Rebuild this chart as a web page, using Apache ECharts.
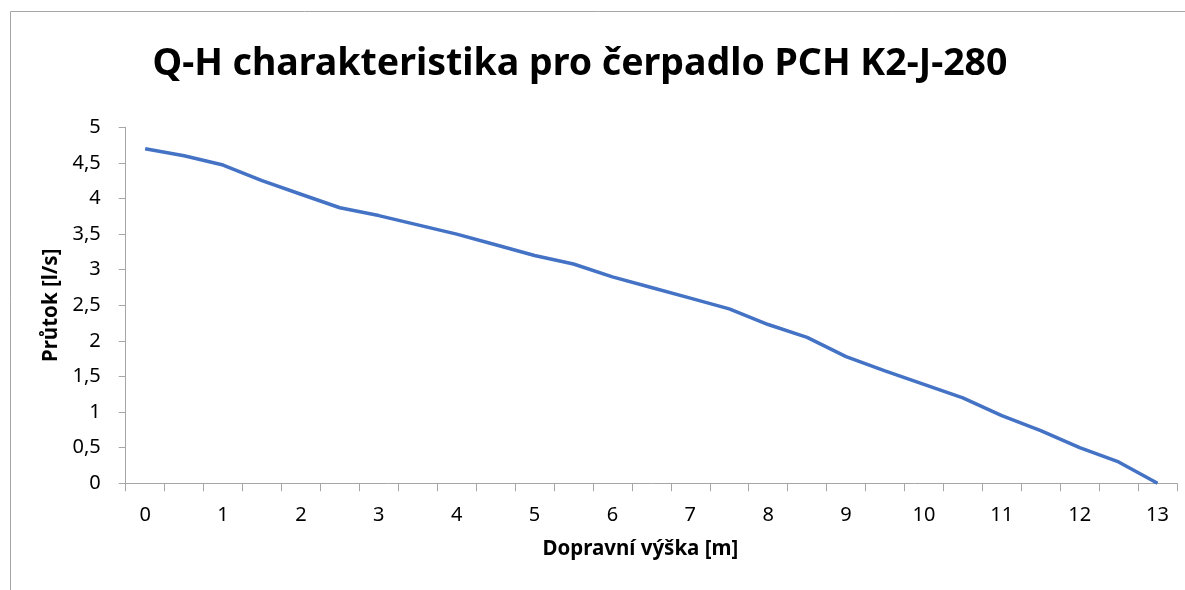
<!DOCTYPE html>
<html>
<head>
<meta charset="utf-8">
<script src="https://cdn.jsdelivr.net/npm/echarts@6/dist/echarts.min.js"></script>
<style>
html,body{margin:0;padding:0;background:#fff;}
#chart{width:1185px;height:590px;}
</style>
</head>
<body>
<div id="chart"></div>
<script>
const titleText = 'Q-H charakteristika pro čerpadlo PCH K2-J-280';
const xAxisName = 'Dopravní výška [m]';
const yAxisName = 'Průtok [l/s]';
const xCategories = ['0','0,5','1','1,5','2','2,5','3','3,5','4','4,5','5','5,5','6','6,5','7','7,5','8','8,5','9','9,5','10','10,5','11','11,5','12','12,5','13'];
const flowValues = [4.70,4.60,4.47,4.25,4.06,3.87,3.76,3.63,3.50,3.35,3.20,3.08,2.90,2.75,2.60,2.45,2.23,2.05,1.78,1.58,1.39,1.20,0.95,0.74,0.50,0.30,0.00];

const chart = echarts.init(document.getElementById('chart'), null, {renderer:'canvas'});
const font = '"Noto Sans", sans-serif';
chart.setOption({
  animation:false,
  backgroundColor:'#fff',
  title:{
    text:titleText,
    left:575, top:40, textAlign:'center',
    textStyle:{fontFamily:font, fontWeight:'bold', fontSize:37.5, color:'#000'}
  },
  graphic:[{
    type:'polyline',
    shape:{points:[[10.5,600],[10.5,11.5],[1200,11.5]]},
    style:{stroke:'#a6a6a6', lineWidth:1, fill:null},
    silent:true
  }],
  grid:{left:125.7, right:8, top:127.3, bottom:106.7, containLabel:false},
  xAxis:{
    type:'category',
    data:xCategories,
    boundaryGap:true,
    name:xAxisName,
    nameLocation:'middle',
    nameGap:55,
    nameTextStyle:{fontFamily:font, fontWeight:'bold', fontSize:20.5, color:'#000', padding:[0,22,0,0]},
    axisLine:{lineStyle:{color:'#a6a6a6', width:1}},
    axisTick:{show:true, interval:0, length:8, lineStyle:{color:'#a6a6a6'}},
    axisLabel:{interval:1, fontFamily:font, fontSize:20, color:'#000', margin:22},
    splitLine:{show:false}
  },
  yAxis:{
    type:'value',
    min:0, max:5, interval:0.5,
    name:yAxisName,
    nameLocation:'middle',
    nameGap:60,
    nameTextStyle:{fontFamily:font, fontWeight:'bold', fontSize:20.5, color:'#000'},
    axisLine:{show:true, lineStyle:{color:'#a6a6a6', width:1}},
    axisTick:{show:true, length:7, lineStyle:{color:'#a6a6a6'}},
    axisLabel:{fontFamily:font, fontSize:20, color:'#000', margin:25,
      formatter:v=>String(v).replace('.',',')},
    splitLine:{show:false}
  },
  series:[{
    type:'line',
    data:flowValues,
    symbol:'none',
    lineStyle:{color:'#4472C4', width:3.5},
    itemStyle:{color:'#4472C4'}
  }]
});
</script>
</body>
</html>
